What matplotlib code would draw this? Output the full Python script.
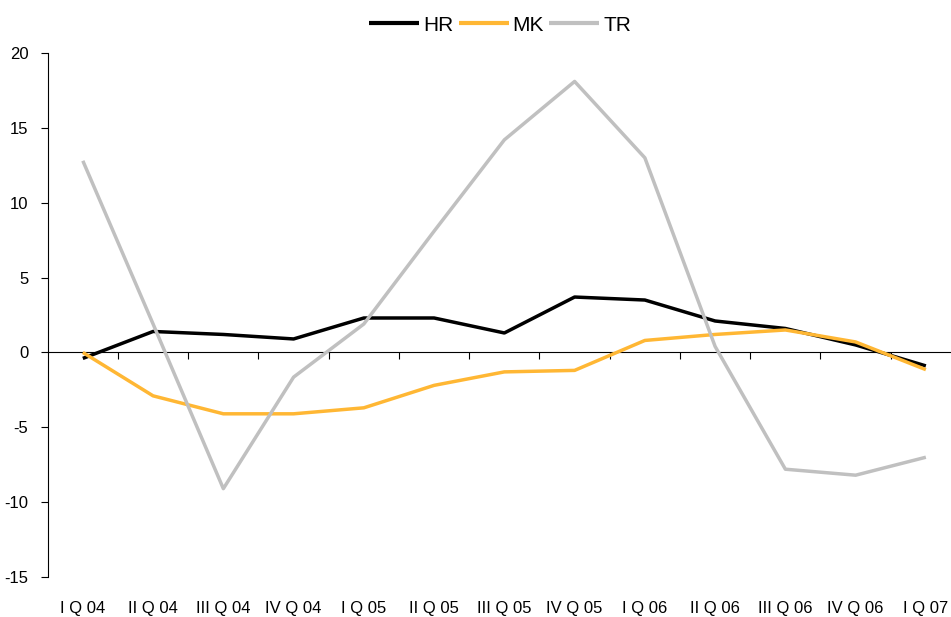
import matplotlib
matplotlib.use("Agg")
import matplotlib.pyplot as plt
from matplotlib.ticker import FixedLocator, NullFormatter

quarters = ["I Q 04", "II Q 04", "III Q 04", "IV Q 04", "I Q 05", "II Q 05", "III Q 05",
            "IV Q 05", "I Q 06", "II Q 06", "III Q 06", "IV Q 06", "I Q 07"]
hr = [-0.4, 1.4, 1.2, 0.9, 2.3, 2.3, 1.3, 3.7, 3.5, 2.1, 1.6, 0.5, -0.9]
mk = [0.0, -2.9, -4.1, -4.1, -3.7, -2.2, -1.3, -1.2, 0.8, 1.2, 1.5, 0.7, -1.15]
tr = [12.8, 1.9, -9.1, -1.65, 1.9, 8.1, 14.2, 18.1, 13.0, 0.4, -7.8, -8.2, -7.0]
yticks = [20, 15, 10, 5, 0, -5, -10, -15]

BLACK = "#000000"; ORANGE = "#FFB734"; GREY = "#C0C0C0"
plt.rcParams.update({"font.family": ["Liberation Sans Narrow", "Liberation Sans", "DejaVu Sans"],
                     "font.size": 12, "axes.unicode_minus": False})

fig = plt.figure(figsize=(9.51, 6.17), dpi=100)
ax = fig.add_axes([47.7 / 951, 40 / 617, (961 - 47.7) / 951, 524 / 617])
xs = list(range(len(quarters)))
ax.plot(xs, hr, color=BLACK, lw=2.5, label="HR", solid_capstyle="butt")
ax.plot(xs, mk, color=ORANGE, lw=2.5, label="MK", solid_capstyle="butt")
ax.plot(xs, tr, color=GREY, lw=2.5, label="TR", solid_capstyle="butt")

ax.set_xlim(-0.5, len(quarters) - 0.5)
ax.set_ylim(-15, 20)
ax.set_yticks(yticks)
ax.tick_params(axis="y", direction="out", length=5, width=0.8, pad=9, labelsize=12)
ax.set_xticks(xs)
ax.set_xticklabels(quarters)
ax.tick_params(axis="x", length=0, pad=17, labelsize=12)
for s in ["top", "right", "bottom"]:
    ax.spines[s].set_visible(False)
ax.spines["left"].set_linewidth(0.8)

# zero line carrying the category-boundary ticks
zax = ax.secondary_xaxis(0, transform=ax.transData)
zax.spines["bottom"].set_linewidth(0.8)
zax.xaxis.set_major_locator(FixedLocator([x + 0.5 for x in xs[:-1]]))
zax.xaxis.set_major_formatter(NullFormatter())
zax.tick_params(axis="x", direction="out", length=5, width=0.8)

leg = fig.legend(loc="upper center", bbox_to_anchor=(0.526, 1.005), ncol=3, frameon=False,
                 fontsize=15, handlelength=2.4, handletextpad=0.2, columnspacing=0.25)
for h in leg.legend_handles:
    h.set_linewidth(3.0)

fig.savefig("out.png", dpi=100)
